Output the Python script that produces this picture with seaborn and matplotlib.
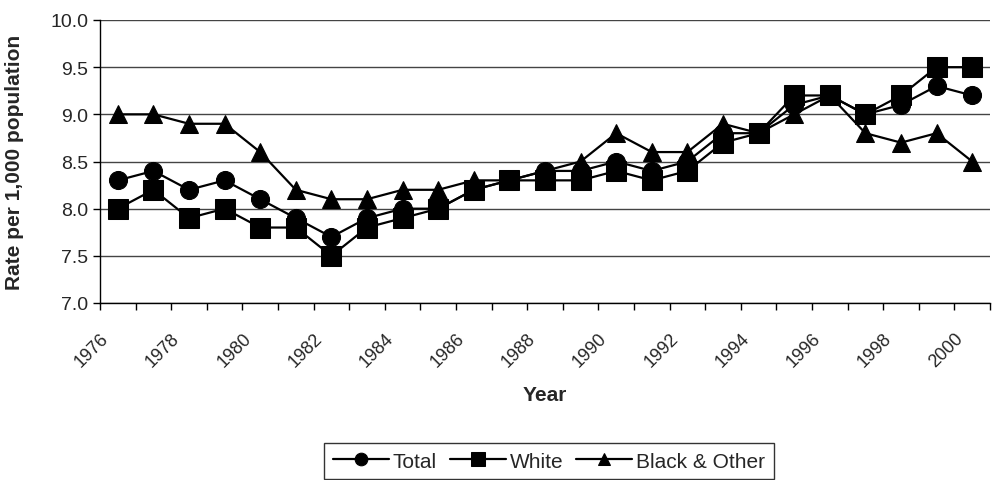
import matplotlib
matplotlib.use("Agg")
import matplotlib.pyplot as plt
import seaborn as sns
import pandas as pd
import numpy as np

# ── Data ──────────────────────────────────────────────────────────────────────
years = list(range(1976, 2001))
total = [8.3, 8.4, 8.2, 8.3, 8.1, 7.9, 7.7, 7.9, 8.0, 8.0, 8.2, 8.3, 8.4,
         8.4, 8.5, 8.4, 8.5, 8.8, 8.8, 9.1, 9.2, 9.0, 9.1, 9.3, 9.2]
white = [8.0, 8.2, 7.9, 8.0, 7.8, 7.8, 7.5, 7.8, 7.9, 8.0, 8.2, 8.3, 8.3,
         8.3, 8.4, 8.3, 8.4, 8.7, 8.8, 9.2, 9.2, 9.0, 9.2, 9.5, 9.5]
black_other = [9.0, 9.0, 8.9, 8.9, 8.6, 8.2, 8.1, 8.1, 8.2, 8.2, 8.3, 8.3, 8.4,
               8.5, 8.8, 8.6, 8.6, 8.9, 8.8, 9.0, 9.2, 8.8, 8.7, 8.8, 8.5]
series_names = ['Total', 'White', 'Black & Other']
tick_years = list(range(1976, 2001, 2))

# long format for seaborn
df = pd.DataFrame({
    'year': years * 3,
    'rate': total + white + black_other,
    'series': np.repeat(series_names, len(years)),
})
# Excel-style category axis: points sit in the middle of each category
df['pos'] = df['year'] - years[0] + 0.5

# ── Plot ──────────────────────────────────────────────────────────────────────
sns.set_style('white')
plt.rcParams['font.family'] = ['Liberation Sans', 'DejaVu Sans']

fig, ax = plt.subplots(figsize=(9.92, 4.81), dpi=100)
fig.subplots_adjust(left=100/992, right=990/992, top=1 - 21/481, bottom=1 - 304/481)

sns.lineplot(data=df, x='pos', y='rate', hue='series', style='series',
             hue_order=series_names, style_order=series_names,
             palette=['black'] * 3, markers=['o', 's', '^'], dashes=False,
             markersize=13, markeredgecolor='black', linewidth=1.6, ax=ax)

# squares look a bit bigger than the circles in the original
marker_size = {'o': 13, 's': 14, '^': 13}
for line in ax.lines:
    m = line.get_marker()
    if m in marker_size:
        line.set_markersize(marker_size[m])

ax.set_xlim(0, len(years))
ax.set_ylim(7.0, 10.0)
yt = np.arange(7.0, 10.01, 0.5)
ax.set_yticks(yt)
ax.set_yticklabels([f'{v:.1f}' for v in yt], fontsize=14)
ax.yaxis.grid(True, color='#444444', linewidth=1)
ax.set_axisbelow(True)

ax.set_xticks(range(len(years) + 1))
ax.set_xticklabels([str(y) if y in tick_years else '' for y in range(years[0], years[-1] + 2)],
                   rotation=45, ha='right', rotation_mode='anchor', fontsize=13)

ax.tick_params(axis='both', direction='out', length=5, width=1, color='black', bottom=True, left=True)
ax.tick_params(axis='x', pad=14)

for side in ['top', 'right']:
    ax.spines[side].set_visible(False)
for side in ['left', 'bottom']:
    ax.spines[side].set_color('black')
    ax.spines[side].set_linewidth(1)

ax.set_xlabel('Year', fontsize=15, fontweight='bold')
ax.xaxis.set_label_coords(0.5, -0.29)
ax.set_ylabel('Rate per 1,000 population', fontsize=15, fontweight='bold')
ax.yaxis.set_label_coords(-0.085, 0.5)

handles, labels = ax.get_legend_handles_labels()
ax.get_legend().remove()
leg = fig.legend(handles, labels, loc='center', bbox_to_anchor=(549/992, 1 - 462/481),
                 ncol=3, frameon=True, fancybox=False, edgecolor='black', fontsize=15,
                 handlelength=2.7, handletextpad=0.2, columnspacing=0.6,
                 borderpad=0.4, markerscale=0.7)
leg.get_frame().set_linewidth(1)

fig.savefig('out.png', dpi=100)
